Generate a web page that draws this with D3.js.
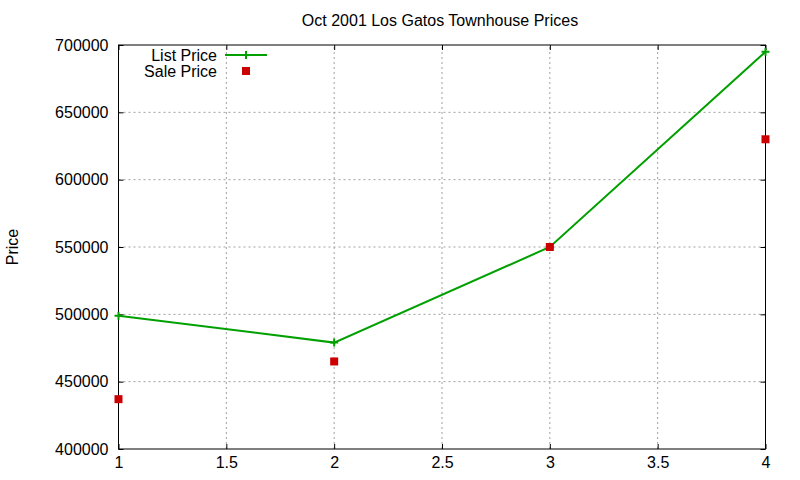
<!DOCTYPE html>
<html>
<head>
<meta charset="utf-8">
<script src="https://cdn.jsdelivr.net/npm/d3@7"></script>
<style>
  body { margin: 0; background: #fff; }
  svg { display: block; font-family: "Liberation Sans", Arial, sans-serif; }
</style>
</head>
<body>
<div id="chart"></div>
<script>
// Data
const xValues = [1, 2, 3, 4]
const listPrice = [499000, 479000, 550000, 695000]
const salePrice = [437000, 465000, 550000, 630000]
const xTicks = [1, 1.5, 2, 2.5, 3, 3.5, 4]
const yTicks = [400000, 450000, 500000, 550000, 600000, 650000, 700000]

const W = 800
const H = 480
const margin = { top: 45, right: 34.5, bottom: 31, left: 118.5 }
const green = '#00a000'
const red = '#cc0000'
const tickLen = 5
const fontSize = '16px'

const svg = d3
    .select('#chart')
    .append('svg')
    .attr('width', W)
    .attr('height', H)

const x = d3
    .scaleLinear()
    .domain([1, 4])
    .range([margin.left, W - margin.right])

const y = d3
    .scaleLinear()
    .domain([400000, 700000])
    .range([H - margin.bottom, margin.top])

// Grid
const grid = svg.append('g')
grid.selectAll('line.gx')
    .data(xTicks.slice(1, -1))
    .join('line')
    .attr('x1', (d) => x(d))
    .attr('x2', (d) => x(d))
    .attr('y1', y.range()[0])
    .attr('y2', y.range()[1])
grid.selectAll('line.gy')
    .data(yTicks.slice(1, -1))
    .join('line')
    .attr('class', 'gy')
    .attr('x1', x.range()[0])
    .attr('x2', x.range()[1])
    .attr('y1', (d) => y(d))
    .attr('y2', (d) => y(d))
grid.selectAll('line')
    .attr('stroke', '#a0a0a0')
    .attr('stroke-width', 1)
    .attr('stroke-dasharray', '2,3')

// Axes with inward ticks, mirrored on all four sides
const bottomAxis = d3.axisBottom(x).tickValues(xTicks).tickFormat(d3.format('')).tickSize(-tickLen).tickSizeOuter(0).tickPadding(8)
const topAxis = d3.axisTop(x).tickValues(xTicks).tickFormat('').tickSize(-tickLen).tickSizeOuter(0)
const leftAxis = d3.axisLeft(y).tickValues(yTicks).tickFormat(d3.format('d')).tickSize(-tickLen).tickSizeOuter(0).tickPadding(10)
const rightAxis = d3.axisRight(y).tickValues(yTicks).tickFormat('').tickSize(-tickLen).tickSizeOuter(0)

const axes = [
    svg.append('g').attr('transform', `translate(0, ${H - margin.bottom})`).call(bottomAxis),
    svg.append('g').attr('transform', `translate(0, ${margin.top})`).call(topAxis),
    svg.append('g').attr('transform', `translate(${margin.left}, 0)`).call(leftAxis),
    svg.append('g').attr('transform', `translate(${W - margin.right}, 0)`).call(rightAxis),
]
axes.forEach((a) => {
    a.selectAll('.domain').remove()
    a.selectAll('line').attr('stroke', '#000').attr('stroke-width', 1)
    a.selectAll('text').attr('fill', '#000').style('font-size', fontSize)
    a.attr('font-family', null).attr('font-size', null)
})

// Border
svg.append('rect')
    .attr('x', x.range()[0])
    .attr('y', y.range()[1])
    .attr('width', x.range()[1] - x.range()[0])
    .attr('height', y.range()[0] - y.range()[1])
    .attr('fill', 'none')
    .attr('stroke', '#000')
    .attr('stroke-width', 1)

// List price line with plus markers
const listData = xValues.map((v, i) => ({ x: v, y: listPrice[i] }))
const saleData = xValues.map((v, i) => ({ x: v, y: salePrice[i] }))

const line = d3
    .line()
    .x((d) => x(d.x))
    .y((d) => y(d.y))

svg.append('path')
    .datum(listData)
    .attr('d', line)
    .attr('fill', 'none')
    .attr('stroke', green)
    .attr('stroke-width', 2)

svg.append('g')
    .selectAll('path')
    .data(listData)
    .join('path')
    .attr('d', (d) => `M${x(d.x) - 4},${y(d.y)}h8M${x(d.x)},${y(d.y) - 4}v8`)
    .attr('stroke', green)
    .attr('stroke-width', 2)

// Sale price squares
svg.append('g')
    .selectAll('rect')
    .data(saleData)
    .join('rect')
    .attr('x', (d) => x(d.x) - 4)
    .attr('y', (d) => y(d.y) - 4)
    .attr('width', 8)
    .attr('height', 8)
    .attr('fill', red)

// Legend
const legend = svg.append('g').style('font-size', fontSize)
legend.append('text')
    .attr('x', 217).attr('y', 55).attr('dy', '0.35em')
    .attr('text-anchor', 'end').text('List Price')
legend.append('path')
    .attr('d', 'M225,55H267M246,51V59')
    .attr('stroke', green).attr('stroke-width', 2)
legend.append('text')
    .attr('x', 217).attr('y', 71).attr('dy', '0.35em')
    .attr('text-anchor', 'end').text('Sale Price')
legend.append('rect')
    .attr('x', 242).attr('y', 67).attr('width', 8).attr('height', 8)
    .attr('fill', red)

// Title and axis label
svg.append('text')
    .attr('x', 440).attr('y', 20).attr('dy', '0.35em')
    .attr('text-anchor', 'middle')
    .style('font-size', fontSize)
    .text('Oct 2001 Los Gatos Townhouse Prices')

svg.append('text')
    .attr('transform', 'translate(12, 247) rotate(-90)')
    .attr('dy', '0.35em')
    .attr('text-anchor', 'middle')
    .style('font-size', fontSize)
    .text('Price')
</script>
</body>
</html>
